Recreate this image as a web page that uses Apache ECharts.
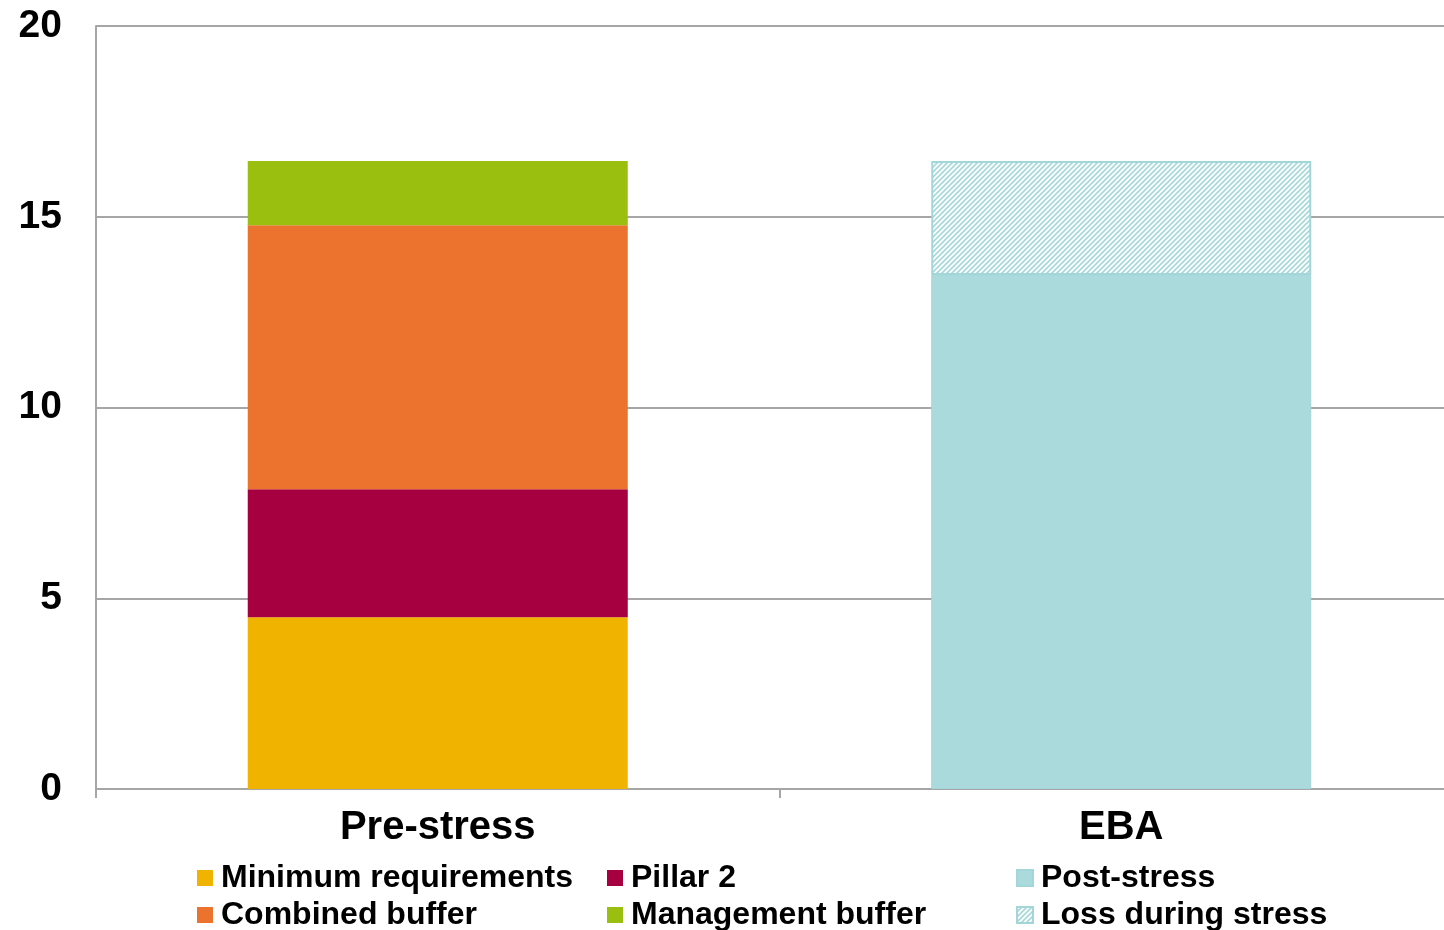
<!DOCTYPE html>
<html>
<head>
<meta charset="utf-8">
<script src="https://cdn.jsdelivr.net/npm/echarts@6/dist/echarts.min.js"></script>
<style>
html,body{margin:0;padding:0;background:#fff;overflow:hidden;width:1444px;height:930px;}
#chart{width:1463px;height:930px;}
</style>
</head>
<body>
<div id="chart"></div>
<script>
const categories = ['Pre-stress', 'EBA'];
const yTicks = [0, 5, 10, 15, 20];
const minimumRequirements = [4.5, '-'];
const pillar2 = [3.36, '-'];
const combinedBuffer = [6.92, '-'];
const managementBuffer = [1.68, '-'];
const postStress = ['-', 13.47];
const lossDuringStress = ['-', 2.99];

const hatch = document.createElement('canvas');
hatch.width = 5; hatch.height = 5;
(function(){
  const c = hatch.getContext('2d');
  c.fillStyle = '#ffffff';
  c.fillRect(0,0,5,5);
  c.strokeStyle = '#a6d8da';
  c.lineWidth = 1.6;
  c.beginPath();
  c.moveTo(-1,6); c.lineTo(6,-1);
  c.moveTo(-1,1); c.lineTo(1,-1);
  c.moveTo(4,6); c.lineTo(6,4);
  c.stroke();
})();

const font = '"Liberation Sans", Arial, sans-serif';
const chart = echarts.init(document.getElementById('chart'), null, {renderer:'canvas'});

function bar(name, data, color, extra) {
  return Object.assign({
    name: name, type: 'bar', stack: 'total', data: data, barWidth: '55.6%',
    itemStyle: {color: color}
  }, extra || {});
}

function leg(name, left, top) {
  return {
    left: left, top: top, itemWidth: 16, itemHeight: 16, icon: 'rect',
    data: [name], padding: 0,
    textStyle: {fontFamily: font, fontWeight: 'bold', fontSize: 32, color: '#000', padding: [0,0,0,3]}
  };
}

chart.setOption({
  animation: false,
  backgroundColor: '#ffffff',
  grid: {left: 96, right: 0, top: 26, bottom: 141},
  legend: [
    leg('Minimum requirements', 197, 862),
    leg('Combined buffer', 197, 899),
    leg('Pillar 2', 607, 862),
    leg('Management buffer', 607, 899),
    leg('Post-stress', 1016, 862),
    leg('Loss during stress', 1016, 899)
  ],
  xAxis: {
    type: 'category', data: categories,
    axisLine: {lineStyle: {color: '#a6a6a6', width: 2}},
    axisTick: {show: true, length: 9, lineStyle: {color: '#a6a6a6', width: 2}},
    axisLabel: {fontFamily: font, fontWeight: 'bold', fontSize: 40, color: '#000', margin: 19}
  },
  yAxis: {
    type: 'value', min: 0, max: 20, interval: 5,
    axisLine: {show: true, lineStyle: {color: '#a6a6a6', width: 2}},
    axisTick: {show: false},
    splitLine: {lineStyle: {color: '#a6a6a6', width: 2}},
    axisLabel: {fontFamily: font, fontWeight: 'bold', fontSize: 39, color: '#000', margin: 34,
      formatter: function(v){ return yTicks.indexOf(v) >= 0 ? String(v) : ''; }}
  },
  series: [
    bar('Minimum requirements', minimumRequirements, '#f0b400'),
    bar('Pillar 2', pillar2, '#a60041'),
    bar('Combined buffer', combinedBuffer, '#ec732e'),
    bar('Management buffer', managementBuffer, '#9bbf0f'),
    bar('Post-stress', postStress, '#abdadc', {itemStyle: {color: '#abdadc', borderColor: '#a3d6d8', borderWidth: 1}}),
    bar('Loss during stress', lossDuringStress, {image: hatch, repeat: 'repeat'},
        {itemStyle: {color: {image: hatch, repeat: 'repeat'}, borderColor: '#a3d6d8', borderWidth: 2}})
  ]
});
</script>
</body>
</html>
